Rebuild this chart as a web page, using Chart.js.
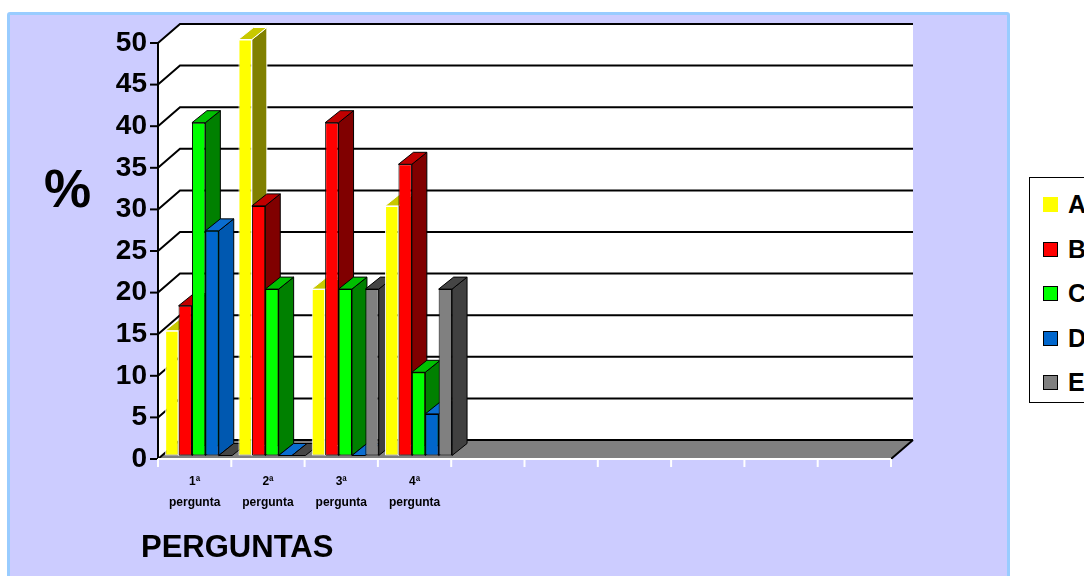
<!DOCTYPE html>
<html lang="pt">
<head>
<meta charset="UTF-8">
<title>Perguntas</title>
<style>
    body {
        margin: 0;
        width: 1084px;
        height: 576px;
        overflow: hidden;
        background: #fff;
        position: relative;
        font-family: 'Liberation Sans', Arial, sans-serif;
    }
    #frame {
        position: absolute;
        left: 7px;
        top: 12px;
        width: 997px;
        height: 600px;
        background: #ccccff;
        border: 3px solid #99ccff;
        border-radius: 3px;
    }
    #chart {
        position: absolute;
        left: 0;
        top: 0;
    }
    #pct {
        position: absolute;
        left: 44px;
        top: 162px;
        font-size: 53px;
        line-height: 53px;
        font-weight: bold;
    }
    #xtitle {
        position: absolute;
        left: 141px;
        top: 531px;
        font-size: 31px;
        line-height: 31px;
        font-weight: bold;
    }
    #legend {
        position: absolute;
        left: 1029px;
        top: 177px;
        width: 90px;
        height: 224px;
        background: #fff;
        border: 1px solid #000;
    }
    #legend .sw {
        position: absolute;
        left: 13px;
        width: 13px;
        height: 13px;
        border: 1px solid #000;
    }
    #legend .lb {
        position: absolute;
        left: 38px;
        font-size: 25px;
        line-height: 25px;
        font-weight: bold;
    }
</style>
</head>
<body>
    <div id="frame"></div>
    <canvas id="chart" width="1084" height="576"></canvas>
    <div id="pct">%</div>
    <div id="xtitle">PERGUNTAS</div>
    <div id="legend"></div>

    <script src="https://cdn.jsdelivr.net/npm/chart.js"></script>
    <script>
        // data
        const categories = [['1ª', 'pergunta'], ['2ª', 'pergunta'], ['3ª', 'pergunta'], ['4ª', 'pergunta'], '', '', '', '', '', ''];
        const seriesNames = ['A', 'B', 'C', 'D', 'E'];
        const serieA = [15, 50, 20, 30, null, null, null, null, null, null];
        const serieB = [18, 30, 40, 35, null, null, null, null, null, null];
        const serieC = [40, 20, 20, 10, null, null, null, null, null, null];
        const serieD = [27, 0, 0, 5, null, null, null, null, null, null];
        const serieE = [0, 0, 20, 20, null, null, null, null, null, null];
        const yMin = 0, yMax = 50, yStep = 5;

        // colours: front, side, top, outline
        const looks = [
            { front: '#ffff00', side: '#808000', top: '#c8c800', line: '#ffffff' },
            { front: '#ff0000', side: '#800000', top: '#c00000', line: '#000000' },
            { front: '#00ff00', side: '#008000', top: '#00c000', line: '#000000' },
            { front: '#0066cc', side: '#0058b0', top: '#0a6dd0', line: '#000000' },
            { front: '#808080', side: '#404040', top: '#454545', line: '#000000' }
        ];
        const wall = { dx: 22, dy: 19 };
        const bar = { dx: 15, dy: 12, ox: 4, oy: -3.5 };

        // legend
        const legend = document.getElementById('legend');
        seriesNames.forEach((name, i) => {
            const sw = document.createElement('div');
            sw.className = 'sw';
            sw.style.top = (19 + 44.5 * i) + 'px';
            sw.style.background = looks[i].front;
            if (i === 0) sw.style.borderColor = looks[i].front;
            const lb = document.createElement('div');
            lb.className = 'lb';
            lb.style.top = (14 + 44.5 * i) + 'px';
            lb.textContent = name;
            legend.appendChild(sw);
            legend.appendChild(lb);
        });

        function face(ctx, pts, fill, line) {
            ctx.beginPath();
            ctx.moveTo(pts[0][0], pts[0][1]);
            for (let k = 1; k < pts.length; k++) ctx.lineTo(pts[k][0], pts[k][1]);
            ctx.closePath();
            ctx.fillStyle = fill;
            ctx.fill();
            ctx.lineWidth = 1;
            ctx.strokeStyle = line;
            ctx.stroke();
        }

        // walls, floor, grid and the 3d columns
        const box3d = {
            id: 'box3d',
            beforeDatasetsDraw(chart) {
                const ctx = chart.ctx;
                const xs = chart.scales.x, ys = chart.scales.y;
                const L = chart.chartArea.left, R = chart.chartArea.right;
                const y0 = ys.getPixelForValue(yMin), yT = ys.getPixelForValue(yMax);
                ctx.save();

                ctx.fillStyle = '#fff';
                ctx.fillRect(L + wall.dx, yT - wall.dy, R - L, y0 - yT);
                ctx.beginPath();
                ctx.moveTo(L, yT);
                ctx.lineTo(L + wall.dx, yT - wall.dy);
                ctx.lineTo(L + wall.dx, y0 - wall.dy);
                ctx.lineTo(L, y0);
                ctx.closePath();
                ctx.fill();

                // floor
                ctx.beginPath();
                ctx.moveTo(L, y0);
                ctx.lineTo(L + wall.dx, y0 - wall.dy);
                ctx.lineTo(R + wall.dx, y0 - wall.dy);
                ctx.lineTo(R, y0);
                ctx.closePath();
                ctx.fillStyle = '#808080';
                ctx.fill();

                ctx.strokeStyle = '#000';
                ctx.lineWidth = 2;
                ys.ticks.forEach(t => {
                    const py = ys.getPixelForValue(t.value);
                    ctx.beginPath();
                    ctx.moveTo(L, py);
                    ctx.lineTo(L + wall.dx, py - wall.dy);
                    ctx.lineTo(R + wall.dx, py - wall.dy);
                    ctx.stroke();
                    ctx.beginPath();
                    ctx.moveTo(L - 8, py);
                    ctx.lineTo(L, py);
                    ctx.stroke();
                });
                ctx.beginPath();
                ctx.moveTo(R, y0);
                ctx.lineTo(R + wall.dx, y0 - wall.dy);
                ctx.stroke();
                ctx.beginPath();
                ctx.moveTo(L, yT);
                ctx.lineTo(L, y0);
                ctx.stroke();

                // x axis is white in the original
                ctx.strokeStyle = '#fff';
                ctx.beginPath();
                ctx.moveTo(L, y0);
                ctx.lineTo(R, y0);
                ctx.stroke();
                for (let i = 0; i <= categories.length; i++) {
                    const px = xs.getPixelForValue(i - 0.5);
                    ctx.beginPath();
                    ctx.moveTo(px, y0);
                    ctx.lineTo(px, y0 + 8);
                    ctx.stroke();
                }

                // columns, left to right so each one hides the side of the previous
                ctx.translate(bar.ox, bar.oy);
                for (let i = 0; i < categories.length; i++) {
                    chart.data.datasets.forEach((ds, d) => {
                        if (ds.data[i] == null) return;
                        const el = chart.getDatasetMeta(d).data[i];
                        const { x, y, base, width } = el.getProps(['x', 'y', 'base', 'width'], true);
                        const l = x - width / 2, r = x + width / 2;
                        const lk = looks[d];
                        if (base - y > 0.5) {
                            face(ctx, [[r, y], [r + bar.dx, y - bar.dy], [r + bar.dx, base - bar.dy], [r, base]], lk.side, lk.line);
                        }
                        face(ctx, [[l, y], [r, y], [r + bar.dx, y - bar.dy], [l + bar.dx, y - bar.dy]], lk.top, lk.line);
                        if (base - y > 0.5) el.draw(ctx);
                    });
                }
                ctx.restore();
                return false;
            }
        };

        const seriesData = [serieA, serieB, serieC, serieD, serieE];

        new Chart(document.getElementById('chart'), {
            type: 'bar',
            data: {
                labels: categories,
                datasets: seriesNames.map((name, i) => ({
                    label: name,
                    data: seriesData[i],
                    backgroundColor: looks[i].front,
                    borderColor: looks[i].line,
                    borderWidth: 1,
                    borderSkipped: false,
                    categoryPercentage: 0.914,
                    barPercentage: 1
                }))
            },
            options: {
                responsive: false,
                animation: false,
                devicePixelRatio: 1,
                layout: { padding: { left: 0, top: 43, right: 193, bottom: 0 } },
                plugins: {
                    legend: { display: false },
                    tooltip: { enabled: false }
                },
                scales: {
                    x: {
                        grid: { display: false, drawTicks: false },
                        border: { display: false },
                        ticks: {
                            autoSkip: false,
                            maxRotation: 0,
                            padding: 12,
                            color: '#000',
                            font: { family: 'Liberation Sans', size: 12, weight: 'bold', lineHeight: 1.75 }
                        },
                        afterFit(scale) { scale.height = 117; }
                    },
                    y: {
                        min: yMin,
                        max: yMax,
                        grid: { display: false, drawTicks: false },
                        border: { display: false },
                        ticks: {
                            stepSize: yStep,
                            padding: 11,
                            color: '#000',
                            font: { family: 'Liberation Sans', size: 28, weight: 'bold' }
                        },
                        afterFit(scale) { scale.width = 158; }
                    }
                }
            },
            plugins: [box3d]
        });
    </script>
</body>
</html>
